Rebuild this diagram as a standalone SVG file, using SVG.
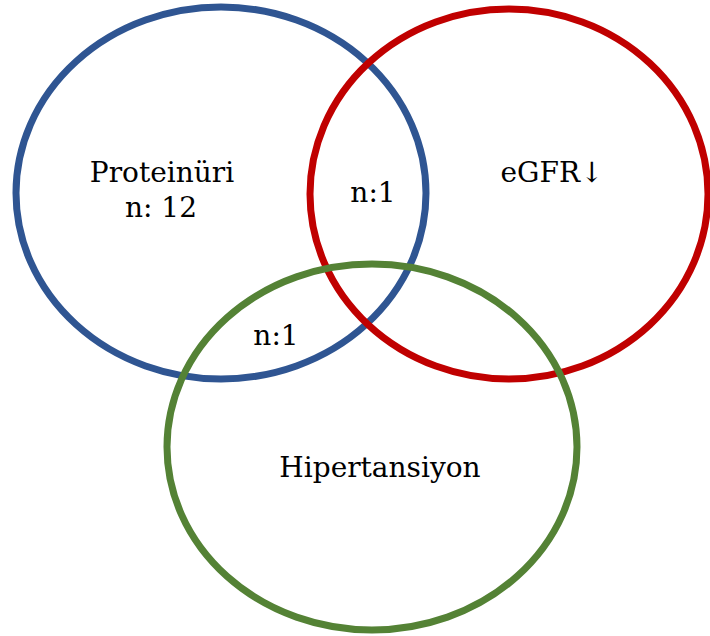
<svg xmlns="http://www.w3.org/2000/svg" width="710" height="636" viewBox="0 0 710 636">
<style>
.ring{fill:none;stroke-width:7}
.lbl{font-family:"DejaVu Serif","Liberation Serif",serif;font-size:28px;fill:#000;text-anchor:middle}
</style>
<rect width="710" height="636" fill="#fff"/>
<g id="proteinuri">
<ellipse class="ring" cx="221" cy="193" rx="205" ry="186" stroke="#2f5592"/>
</g>
<g id="egfr">
<ellipse class="ring" cx="509" cy="194" rx="199" ry="185" stroke="#c00000"/>
</g>
<g id="hipertansiyon">
<ellipse class="ring" cx="372" cy="447" rx="205" ry="183" stroke="#548235"/>
</g>
<g id="labels">
<text class="lbl" x="162" y="182">Proteinüri</text>
<text class="lbl" x="161" y="217">n: 12</text>
<text class="lbl" x="373" y="202">n:1</text>
<text class="lbl" x="552" y="182">eGFR↓</text>
<text class="lbl" x="276" y="345">n:1</text>
<text class="lbl" x="380" y="477">Hipertansiyon</text>
</g>
</svg>
